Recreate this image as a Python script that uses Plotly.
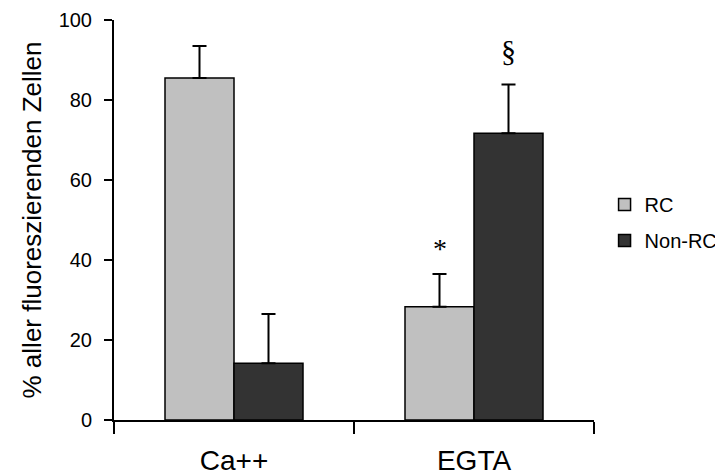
import plotly.graph_objects as go

categories = ["Ca++", "EGTA"]
rc_values = [85.5, 28.3]
rc_err = [8.0, 8.2]
nonrc_values = [14.2, 71.7]
nonrc_err = [12.3, 12.2]
sig_marks = [("*", 1, "RC", 43, 28), ("§", 1, "Non-RC", 92.5, 30)]

BARGAP = 0.425
FONT = "Liberation Sans, Arial, sans-serif"
SERIF = "Liberation Serif, Times New Roman, serif"

fig = go.Figure()
fig.add_trace(go.Bar(
    name="RC", x=categories, y=rc_values, legendgroup="a",
    marker=dict(color="#c0c0c0", line=dict(color="black", width=1.5)),
    error_y=dict(type="data", symmetric=False, array=rc_err, arrayminus=[0, 0],
                 color="black", thickness=2, width=7),
))
fig.add_trace(go.Bar(
    name="Non-RC", x=categories, y=nonrc_values, legendgroup="b",
    marker=dict(color="#333333", line=dict(color="black", width=1.5)),
    error_y=dict(type="data", symmetric=False, array=nonrc_err, arrayminus=[0, 0],
                 color="black", thickness=2, width=7),
))

bar_w = (1 - BARGAP) / 2
offsets = {"RC": -bar_w / 2, "Non-RC": bar_w / 2}
for txt, ci, series, yv, fs in sig_marks:
    fig.add_annotation(
        x=ci + offsets[series], y=yv, xref="x", yref="y", text=txt,
        showarrow=False, yanchor="middle",
        font=dict(family=SERIF, size=fs, color="black"),
    )

fig.update_layout(
    width=715, height=467,
    margin=dict(l=106, r=129, t=12, b=55, autoexpand=False),
    paper_bgcolor="white", plot_bgcolor="white",
    barmode="group", bargap=BARGAP, bargroupgap=0,
    font=dict(family=FONT, color="black"),
    showlegend=True,
    legend=dict(x=1.022, y=0.494, xanchor="left", yanchor="middle",
                font=dict(size=20, family=FONT), traceorder="grouped",
                tracegroupgap=7, itemwidth=30, bgcolor="rgba(0,0,0,0)"),
    xaxis=dict(
        type="category", range=[-0.5, 1.5], showline=True, linecolor="black", linewidth=2,
        ticks="outside", tickson="boundaries", ticklen=12, tickwidth=2, tickcolor="black",
        ticklabelstandoff=14, automargin=False,
        tickfont=dict(size=28, family=FONT), showgrid=False, zeroline=False,
    ),
    yaxis=dict(
        range=[0, 100], dtick=20, showline=True, linecolor="black", linewidth=2,
        ticks="outside", ticklen=8, tickwidth=2, tickcolor="black",
        ticklabelstandoff=8, automargin=False,
        tickfont=dict(size=20, family=FONT), showgrid=False, zeroline=False,
        title=dict(text="% aller fluoreszierenden Zellen", font=dict(size=26, family=FONT), standoff=10),
    ),
)

fig.write_html("out.html")
